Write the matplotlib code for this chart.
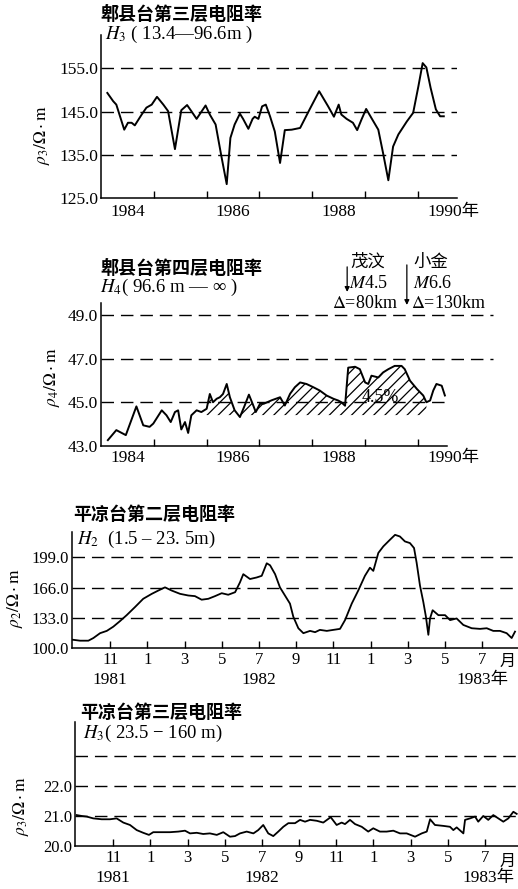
import matplotlib.pyplot as plt
import numpy as np
from matplotlib.transforms import blended_transform_factory

plt.rcParams['font.family'] = ['Liberation Serif', 'Noto Sans CJK SC']
plt.rcParams['mathtext.fontset'] = 'stix'
plt.rcParams['hatch.linewidth'] = 0.9

# ---- 郫县台第三层 (year, ohm.m)
t_px3 = [1984.12, 1984.23, 1984.29, 1984.36, 1984.44, 1984.51, 1984.58, 1984.64, 1984.77, 1984.86,
         1984.96, 1985.06, 1985.18, 1985.27, 1985.40, 1985.52, 1985.63, 1985.71, 1985.81, 1985.98,
         1986.06, 1986.17, 1986.28, 1986.38, 1986.45, 1986.53, 1986.63, 1986.69, 1986.79, 1986.87,
         1986.91, 1986.98, 1987.05, 1987.12, 1987.20, 1987.29, 1987.39, 1987.48, 1987.61, 1987.77,
         1987.95, 1988.13, 1988.30, 1988.41, 1988.50, 1988.55, 1988.65, 1988.77, 1988.85, 1988.93,
         1989.02, 1989.12, 1989.25, 1989.34, 1989.44, 1989.53, 1989.63, 1989.79, 1989.91, 1990.01,
         1990.09, 1990.16, 1990.24, 1990.34, 1990.42, 1990.49]
rho_px3 = [149.3, 147.4, 146.6, 143.9, 140.8, 142.4, 142.4, 141.8, 144.3, 145.9,
           146.6, 148.4, 146.6, 145.1, 136.3, 145.3, 146.5, 145.1, 143.3, 146.4,
           144.3, 142.0, 134.6, 128.2, 138.9, 142.0, 144.5, 143.3, 141.0, 143.3,
           143.8, 143.3, 146.2, 146.6, 143.9, 140.4, 133.1, 140.7, 140.8, 141.2,
           145.5, 149.7, 146.2, 143.8, 146.6, 144.3, 143.3, 142.4, 140.7, 143.1,
           145.6, 143.5, 140.8, 135.4, 129.1, 136.9, 139.7, 142.7, 144.7, 150.9,
           156.2, 155.2, 150.5, 145.5, 143.9, 143.9]

# ---- 郫县台第四层
t_px4 = [1984.13, 1984.29, 1984.47, 1984.67, 1984.80, 1984.92, 1984.99, 1985.15, 1985.24, 1985.32,
         1985.40, 1985.46, 1985.52, 1985.59, 1985.65, 1985.71, 1985.81, 1985.90, 1986.00, 1986.06,
         1986.12, 1986.19, 1986.25, 1986.31, 1986.38, 1986.44, 1986.53, 1986.63, 1986.72, 1986.80,
         1986.87, 1986.93, 1987.01, 1987.08, 1987.23, 1987.39, 1987.48, 1987.58, 1987.67, 1987.77,
         1987.89, 1988.02, 1988.14, 1988.27, 1988.40, 1988.49, 1988.55, 1988.62, 1988.68, 1988.81,
         1988.90, 1989.00, 1989.06, 1989.12, 1989.25, 1989.34, 1989.44, 1989.56, 1989.69, 1989.75,
         1989.85, 1989.98, 1990.10, 1990.16, 1990.23, 1990.29, 1990.35, 1990.45, 1990.51]
rho_px4 = [43.27, 43.73, 43.50, 44.82, 43.95, 43.88, 44.03, 44.64, 44.41, 44.10,
           44.56, 44.64, 43.76, 44.10, 43.60, 44.41, 44.64, 44.56, 44.71, 45.39,
           45.01, 45.17, 45.24, 45.39, 45.85, 45.24, 44.64, 44.33, 44.86, 45.36,
           44.94, 44.56, 44.94, 44.94, 45.10, 45.24, 44.86, 45.40, 45.70, 45.92,
           45.85, 45.70, 45.55, 45.32, 45.17, 45.09, 45.01, 44.85, 46.60, 46.64,
           46.53, 45.92, 45.85, 46.23, 46.15, 46.38, 46.53, 46.68, 46.68, 46.53,
           46.00, 45.62, 45.32, 45.01, 45.09, 45.55, 45.85, 45.77, 45.32]
hatch_floor = 44.42
hatch_span = (1985.93, 1990.2)

quake_t = [1988.66, 1989.79]

# ---- 平凉台第二层 (months since Jan 1981)
m_pl2 = [8.0, 8.38, 8.83, 9.10, 9.46, 9.82, 10.17, 10.53, 10.89, 11.34,
         11.78, 12.24, 12.59, 12.95, 13.31, 13.76, 14.20, 14.56, 14.92, 15.28,
         15.64, 16.00, 16.35, 16.72, 16.98, 17.16, 17.52, 17.88, 18.15, 18.42,
         18.60, 18.87, 19.13, 19.40, 19.67, 19.85, 20.12, 20.39, 20.75, 21.02,
         21.28, 21.65, 22.00, 22.36, 22.63, 22.99, 23.34, 23.70, 23.97, 24.15,
         24.42, 24.69, 25.05, 25.32, 25.58, 25.85, 26.12, 26.34, 26.48, 26.66,
         26.84, 26.98, 27.11, 27.20, 27.34, 27.65, 28.01, 28.28, 28.63, 28.99,
         29.44, 29.89, 30.25, 30.60, 30.96, 31.32, 31.59, 31.77]
rho_pl2 = [109.0, 108.0, 108.0, 110.9, 116.2, 118.7, 123.3, 129.4, 135.9, 144.8,
           153.8, 159.2, 162.8, 166.3, 162.8, 159.2, 157.4, 156.7, 152.8, 153.8,
           156.7, 159.9, 158.2, 161.0, 171.7, 180.7, 175.4, 177.1, 178.9, 192.6,
           190.4, 180.7, 166.3, 157.4, 148.5, 134.1, 121.6, 116.2, 118.7, 117.3,
           119.8, 118.7, 119.8, 120.9, 130.5, 148.5, 162.8, 178.9, 187.8, 184.3,
           203.9, 211.1, 218.4, 223.7, 221.9, 216.5, 214.7, 209.3, 193.2, 168.2,
           150.2, 134.1, 114.4, 132.3, 141.3, 135.9, 135.9, 130.5, 132.3, 125.2,
           121.6, 120.9, 121.6, 118.7, 118.7, 116.2, 110.9, 117.9]

# ---- 平凉台第三层
m_pl3 = [8.03, 8.30, 8.57, 8.92, 9.38, 9.82, 10.18, 10.54, 10.90, 11.26,
         11.61, 11.92, 12.15, 12.60, 13.05, 13.50, 13.86, 14.13, 14.49, 14.84,
         15.20, 15.57, 15.92, 16.28, 16.55, 16.82, 17.18, 17.54, 17.80, 18.07,
         18.34, 18.61, 18.88, 19.15, 19.42, 19.78, 20.05, 20.32, 20.59, 20.95,
         21.30, 21.70, 22.02, 22.29, 22.47, 22.74, 23.01, 23.37, 23.72, 23.99,
         24.35, 24.71, 25.07, 25.43, 25.79, 26.24, 26.60, 26.87, 27.05, 27.31,
         27.76, 28.12, 28.30, 28.48, 28.84, 28.93, 29.20, 29.47, 29.64, 29.91,
         30.18, 30.45, 30.72, 30.99, 31.26, 31.53, 31.71]
rho_pl3 = [21.03, 21.00, 20.98, 20.92, 20.89, 20.89, 20.92, 20.78, 20.70, 20.53,
           20.44, 20.37, 20.46, 20.46, 20.46, 20.48, 20.51, 20.42, 20.44, 20.40,
           20.42, 20.37, 20.46, 20.31, 20.33, 20.42, 20.48, 20.42, 20.53, 20.70,
           20.42, 20.33, 20.48, 20.64, 20.76, 20.76, 20.87, 20.81, 20.87, 20.84,
           20.78, 20.96, 20.70, 20.78, 20.73, 20.87, 20.73, 20.64, 20.48, 20.59,
           20.48, 20.48, 20.51, 20.42, 20.42, 20.31, 20.42, 20.48, 20.89, 20.70,
           20.67, 20.64, 20.53, 20.62, 20.42, 20.87, 20.92, 20.98, 20.81, 21.00,
           20.87, 21.03, 20.92, 20.81, 20.92, 21.14, 21.07]

year_ticks = [1985, 1986, 1987, 1988, 1989, 1990]
year_lab_pos = [1984.5, 1986.5, 1988.5]
year_labels = ['1984', '1986', '1988']
month_ticks = [10, 12, 14, 16, 18, 20, 22, 24, 26, 28, 30]
month_labels = ['11', '1', '3', '5', '7', '9', '11', '1', '3', '5', '7']
yr_pos = [10, 18]
yr_labels = ['1981', '1982']

W, H = 518, 889
fig = plt.figure(figsize=(W / 100, H / 100), dpi=100)

CJK = ['Noto Sans CJK SC']
SER = ['Liberation Serif', 'Noto Sans CJK SC']
DASH = (9, 5)


def box(left, top, right, bottom):
    return [left / W, 1 - bottom / H, (right - left) / W, (bottom - top) / H]


def put(x, y, s, **kw):
    kw.setdefault('va', 'center')
    kw.setdefault('fontsize', 12)
    fig.text(x / W, 1 - y / H, s, **kw)


def put_x(ax, xv, y, s, **kw):
    tr = blended_transform_factory(ax.transData, fig.transFigure)
    ax.text(xv, 1 - y / H, s, transform=tr, va='center', clip_on=False, **kw)


def style(ax, xlim, ylim, yt, ylab, fs=11.5):
    ax.set_xlim(*xlim)
    ax.set_ylim(*ylim)
    ax.spines[['top', 'right']].set_visible(False)
    ax.spines[['left', 'bottom']].set_linewidth(1.1)
    ax.set_yticks(yt, ylab)
    ax.tick_params(axis='y', length=0, pad=2, labelsize=fs)
    ax.tick_params(axis='x', direction='in', length=5, width=1, labelsize=fs)
    ax.patch.set_alpha(0)


# ===== panel 1
ax1 = fig.add_axes(box(101, 35, 457, 198))
style(ax1, (1984.0, 1990.74), (125, 162.7), [125, 135, 145, 155],
      ['125.0', '135.0', '145.0', '155.0'], fs=12.5)
for lv in [135, 145, 155]:
    ax1.axhline(lv, color='k', lw=1, dashes=DASH)
ax1.plot(t_px3, rho_px3, color='k', lw=1.4)
ax1.set_xticks(year_ticks)
ax1.tick_params(labelbottom=False)
for xv, s in zip(year_lab_pos, year_labels):
    put_x(ax1, xv, 212, s, ha='center', fontsize=12.5)
put_x(ax1, 1990.18, 212, '1990年', ha='left', fontsize=12.5)
put(100, 15, '郫县台第三层电阻率', family=CJK, weight='bold', fontsize=13)
put(105, 34, r'$H_3$ ( 13.4—96.6m )', family=SER, fontsize=13.5)
put(42, 135, r'$\rho_3/\Omega\cdot\mathrm{m}$', family=SER, rotation=90, ha='center', fontsize=12.5)

# ===== panel 2
ax2 = fig.add_axes(box(101, 303, 447, 446))
style(ax2, (1984.0, 1990.55), (43, 49.57), [43, 45, 47, 49],
      ['43.0', '45.0', '47.0', '49.0'], fs=12.5)
ax2.axhline(45, color='k', lw=1, dashes=DASH)
for lv in [47, 49]:
    ax2.axhline(lv, xmax=1.133, color='k', lw=1, dashes=DASH, clip_on=False)
t4 = np.array(t_px4)
r4 = np.array(rho_px4)
ax2.fill_between(t4, r4, hatch_floor, where=(t4 >= hatch_span[0]) & (t4 <= hatch_span[1]),
                 interpolate=True, facecolor='none', edgecolor='k', linewidth=0, hatch='///')
ax2.plot(t4, r4, color='k', lw=1.4)
ax2.set_xticks(year_ticks)
ax2.tick_params(labelbottom=False)
for xv, s in zip(year_lab_pos, year_labels):
    put_x(ax2, xv, 458, s, ha='center', fontsize=12.5)
put_x(ax2, 1990.18, 458, '1990年', ha='left', fontsize=12.5)
put(380, 398, '4.5%', ha='center', family=SER, fontsize=13)
for qt, (y0, y1) in zip(quake_t, [(51.23, 50.08), (51.32, 49.48)]):
    ax2.annotate('', xy=(qt, y1), xytext=(qt, y0), annotation_clip=False,
                 arrowprops=dict(arrowstyle='-|>', color='k', lw=0.9,
                                 mutation_scale=7, shrinkA=0, shrinkB=0))
put(350, 262, '茂汶', family=CJK, fontsize=12.5)
put(349, 283, r'$M$4.5', family=SER, fontsize=13)
put(398, 303, r'$\mathit{\Delta}$=80km', family=SER, ha='right', fontsize=13)
put(413, 262, '小金', family=CJK, fontsize=12.5)
put(413, 283, r'$M$6.6', family=SER, fontsize=13)
put(411, 303, r'$\mathit{\Delta}$=130km', family=SER, fontsize=13)
put(100, 268, '郫县台第四层电阻率', family=CJK, weight='bold', fontsize=13)
put(100, 287, r'$H_4$( 96.6 m — ∞ )', family=SER, fontsize=13.5)
put(52, 377, r'$\rho_4/\Omega\cdot\mathrm{m}$', family=SER, rotation=90, ha='center', fontsize=12.5)

# ===== panel 3
ax3 = fig.add_axes(box(72, 532, 518, 648))
style(ax3, (7.95, 31.93), (100, 226.8), [100, 133, 166, 199],
      ['100.0', '133.0', '166.0', '199.0'], fs=12)
for lv in [133, 166, 199]:
    ax3.axhline(lv, color='k', lw=1, dashes=DASH)
ax3.plot(m_pl2, rho_pl2, color='k', lw=1.3)
ax3.set_xticks(month_ticks, month_labels)
ax3.tick_params(axis='x', pad=3)
for xv, s in zip(yr_pos, yr_labels):
    put_x(ax3, xv, 680, s, ha='center', fontsize=12.5)
put(456, 680, '1983年', family=SER, fontsize=12.5)
put(516, 662, '月', family=SER, ha='right', fontsize=11.5)
put(73, 515, '平凉台第二层电阻率', family=CJK, weight='bold', fontsize=13)
put(77, 539, r'$H_2$  (1.5 – 23. 5m)', family=SER, fontsize=13.5)
put(15, 598, r'$\rho_2/\Omega\cdot\mathrm{m}$', family=SER, rotation=90, ha='center', fontsize=12.5)

# ===== panel 4
ax4 = fig.add_axes(box(75, 722, 518, 846))
style(ax4, (7.94, 31.78), (20, 24.13), [20, 21, 22, 23],
      ['20.0', '21.0', '22.0', ''], fs=12)
for lv in [21, 22, 23]:
    ax4.axhline(lv, color='k', lw=1, dashes=DASH)
ax4.plot(m_pl3, rho_pl3, color='k', lw=1.3)
ax4.set_xticks(month_ticks, month_labels)
ax4.tick_params(axis='x', pad=3)
for xv, s in zip(yr_pos, yr_labels):
    put_x(ax4, xv, 878, s, ha='center', fontsize=12.5)
put(462, 878, '1983年', family=SER, fontsize=12.5)
put(516, 862, '月', family=SER, ha='right', fontsize=11.5)
put(80, 712, '平凉台第三层电阻率', family=CJK, weight='bold', fontsize=13)
put(83, 733, r'$H_3$( 23.5 − 160 m)', family=SER, fontsize=13.5)
put(21, 806, r'$\rho_3/\Omega\cdot\mathrm{m}$', family=SER, rotation=90, ha='center', fontsize=12.5)

fig.savefig('out.png', dpi=100)
